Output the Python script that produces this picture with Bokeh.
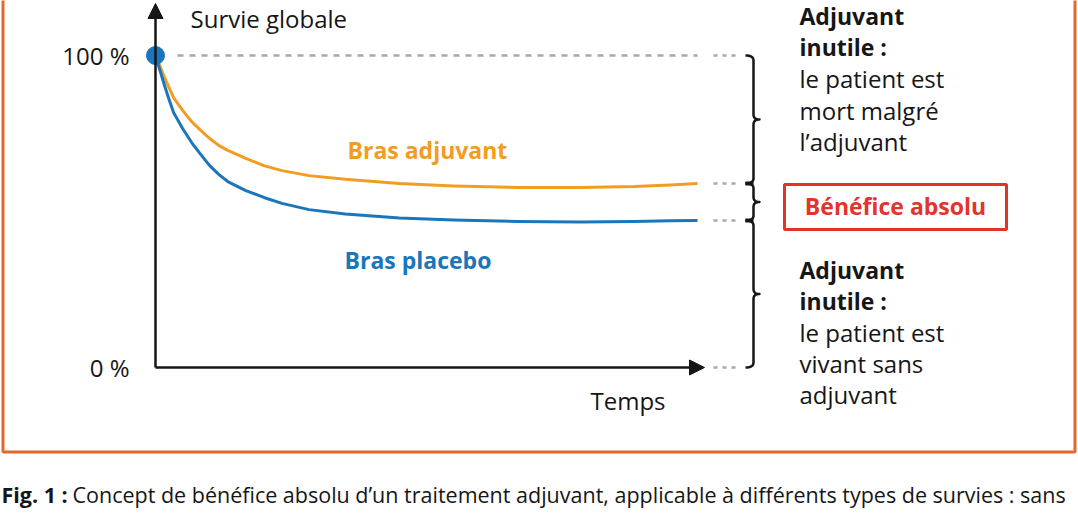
import numpy as np
from bokeh.plotting import figure
from bokeh.models import Range1d, Label, Arrow, NormalHead
from bokeh.embed import file_html
from bokeh.resources import INLINE

# ---------------- data ----------------
time = [0, 0.5, 1, 1.5, 2, 3, 4, 5, 6, 7, 8, 10, 12, 14, 17, 21, 27, 33, 40, 47, 53, 57, 60]
bras_adjuvant = [100, 96.5, 92.9, 89.7, 86.5, 82.4, 78.8, 76.0, 73.4, 71.2, 69.6, 67.0, 64.7,
                 63.1, 61.5, 60.3, 59.0, 58.2, 57.7, 57.7, 58.0, 58.5, 59.0]
bras_placebo = [100, 95.2, 90.4, 85.9, 81.7, 76.6, 72.1, 68.3, 64.7, 61.9, 59.6, 56.7, 54.5,
                52.6, 50.6, 49.2, 47.9, 47.3, 46.8, 46.6, 46.8, 47.0, 47.1]
y_ticks = [0, 100]
y_tick_labels = ["0 %", "100 %"]
x_title = "Temps"
y_title = "Survie globale"
series_names = ["Bras adjuvant", "Bras placebo"]
note_top = ["Adjuvant", "inutile :", "le patient est", "mort malgré", "l’adjuvant"]
note_bottom = ["Adjuvant", "inutile :", "le patient est", "vivant sans", "adjuvant"]
benefit_label = "Bénéfice absolu"
caption_bold = "Fig. 1 :"
caption_text = "Concept de bénéfice absolu d’un traitement adjuvant, applicable à différents types de survies : sans"

# ---------------- layout helpers (picture pixels -> data) ----------------
W, H, OFF = 1078, 516, 0
PXPU = 542 / 60.0      # px per time unit
PYPU = 3.12            # px per survival %
TXT_DY = -9            # text baseline correction


def X(px):
    return (px - 155) / PXPU


def Y(py):
    return (367 - py) / PYPU


def to_py(v):
    return 367 - v * PYPU


ORANGE = "#f39c1f"
BLUE = "#1a76bc"
GRAY = "#a8a8a8"
BLACK = "#161616"
RED = "#e3342c"
FRAME = "#e2692c"
SANS = "Open Sans"

p = figure(width=W, height=H, x_range=Range1d(X(OFF), X(OFF + W)),
           y_range=Range1d(Y(OFF + H), Y(OFF)), output_backend="svg",
           toolbar_location=None, min_border=0, x_axis_location=None,
           y_axis_location=None, outline_line_color=None)
p.xgrid.grid_line_color = None
p.ygrid.grid_line_color = None
p.background_fill_color = "white"
p.border_fill_color = "white"

# frame
p.quad(left=X(2.5), right=X(1074.5), bottom=Y(451.5), top=Y(-30),
       fill_color=None, line_color=FRAME, line_width=3)

# 100 % reference dashed line
p.line([X(177), time[-1]], [y_ticks[1], y_ticks[1]], line_color=GRAY,
       line_width=2.5, line_dash="6 6")

# survival curves
p.line(time, bras_adjuvant, line_color=ORANGE, line_width=3, line_join="round")
p.line(time, bras_placebo, line_color=BLUE, line_width=3, line_join="round")
p.scatter([time[0]], [bras_placebo[0]], size=18, color=BLUE)

# axes with arrows
head = dict(size=15, fill_color=BLACK, line_color=BLACK, line_width=1)
p.add_layout(Arrow(end=NormalHead(**head), x_start=0, y_start=0, x_end=0,
                   y_end=Y(3), line_color=BLACK, line_width=2.5))
p.add_layout(Arrow(end=NormalHead(**head), x_start=0, y_start=0, x_end=X(704),
                   y_end=0, line_color=BLACK, line_width=2.5))

# dotted leaders and braces
levels = [y_ticks[1], bras_adjuvant[-1], bras_placebo[-1], y_ticks[0]]
p.multi_line([[X(713), X(738)] for _ in levels], [[lv, lv] for lv in levels],
             line_color=GRAY, line_width=2.5, line_dash="4 5")


def qbez(p0, p1, p2, n=10):
    t = np.linspace(0, 1, n)
    xs = (1 - t) ** 2 * p0[0] + 2 * (1 - t) * t * p1[0] + t ** 2 * p2[0]
    ys = (1 - t) ** 2 * p0[1] + 2 * (1 - t) * t * p1[1] + t ** 2 * p2[1]
    return list(xs), list(ys)


def brace(ya, yb, xl=745, xv=753, depth=6, r=5):
    mid = (ya + yb) / 2.0
    xs, ys = [], []
    for seg in [((xl, ya), (xv, ya), (xv, ya + r)),
                ((xv, mid - r), (xv, mid), (xv + depth, mid)),
                ((xv + depth, mid), (xv, mid), (xv, mid + r)),
                ((xv, yb - r), (xv, yb), (xl, yb))]:
        a, b = qbez(*seg)
        xs += a
        ys += b
    return [X(v) for v in xs], [Y(v) for v in ys]


bx, by = [], []
for a, b in zip(levels[:-1], levels[1:]):
    xs, ys = brace(to_py(a), to_py(b))
    bx.append(xs)
    by.append(ys)
p.multi_line(bx, by, line_color=BLACK, line_width=2.5, line_join="round")
p.multi_line([[X(745), X(753)] for _ in levels[1:3]], [[lv, lv] for lv in levels[1:3]],
             line_color=BLACK, line_width=4)


def lab(px, py, text, size="24px", bold=False, color=BLACK, align="left",
        font=SANS):
    p.add_layout(Label(x=X(px), y=Y(py + TXT_DY), text=text, text_font=font,
                       text_font_size=size,
                       text_font_style="bold" if bold else "normal",
                       text_color=color, text_align=align,
                       text_baseline="alphabetic"))


# axis texts
lab(190, 27, y_title)
lab(590, 409, x_title)
for v, t in zip(y_ticks, y_tick_labels):
    lab(129, to_py(v) + 9, t, align="right")

# series labels
lab(347, 158, series_names[0], size="23px", bold=True, color=ORANGE)
lab(344, 268, series_names[1], size="23px", bold=True, color=BLUE)

# right notes
for i, t in enumerate(note_top):
    lab(799, 24 + 31.5 * i, t, size="23px" if i < 2 else "24px", bold=i < 2)
for i, t in enumerate(note_bottom):
    lab(799, 278 + 31.3 * i, t, size="23px" if i < 2 else "24px", bold=i < 2)

# benefit box
p.quad(left=X(784), right=X(1006), bottom=Y(229), top=Y(184),
       fill_color=None, line_color=RED, line_width=3)
lab(895, 214, benefit_label, size="23px", bold=True, color=RED, align="center")

# caption
lab(1, 503, caption_bold, size="21.5px", bold=True)
lab(72, 503, caption_text, size="21.5px")

open("out.html", "w").write(file_html(p, INLINE))
